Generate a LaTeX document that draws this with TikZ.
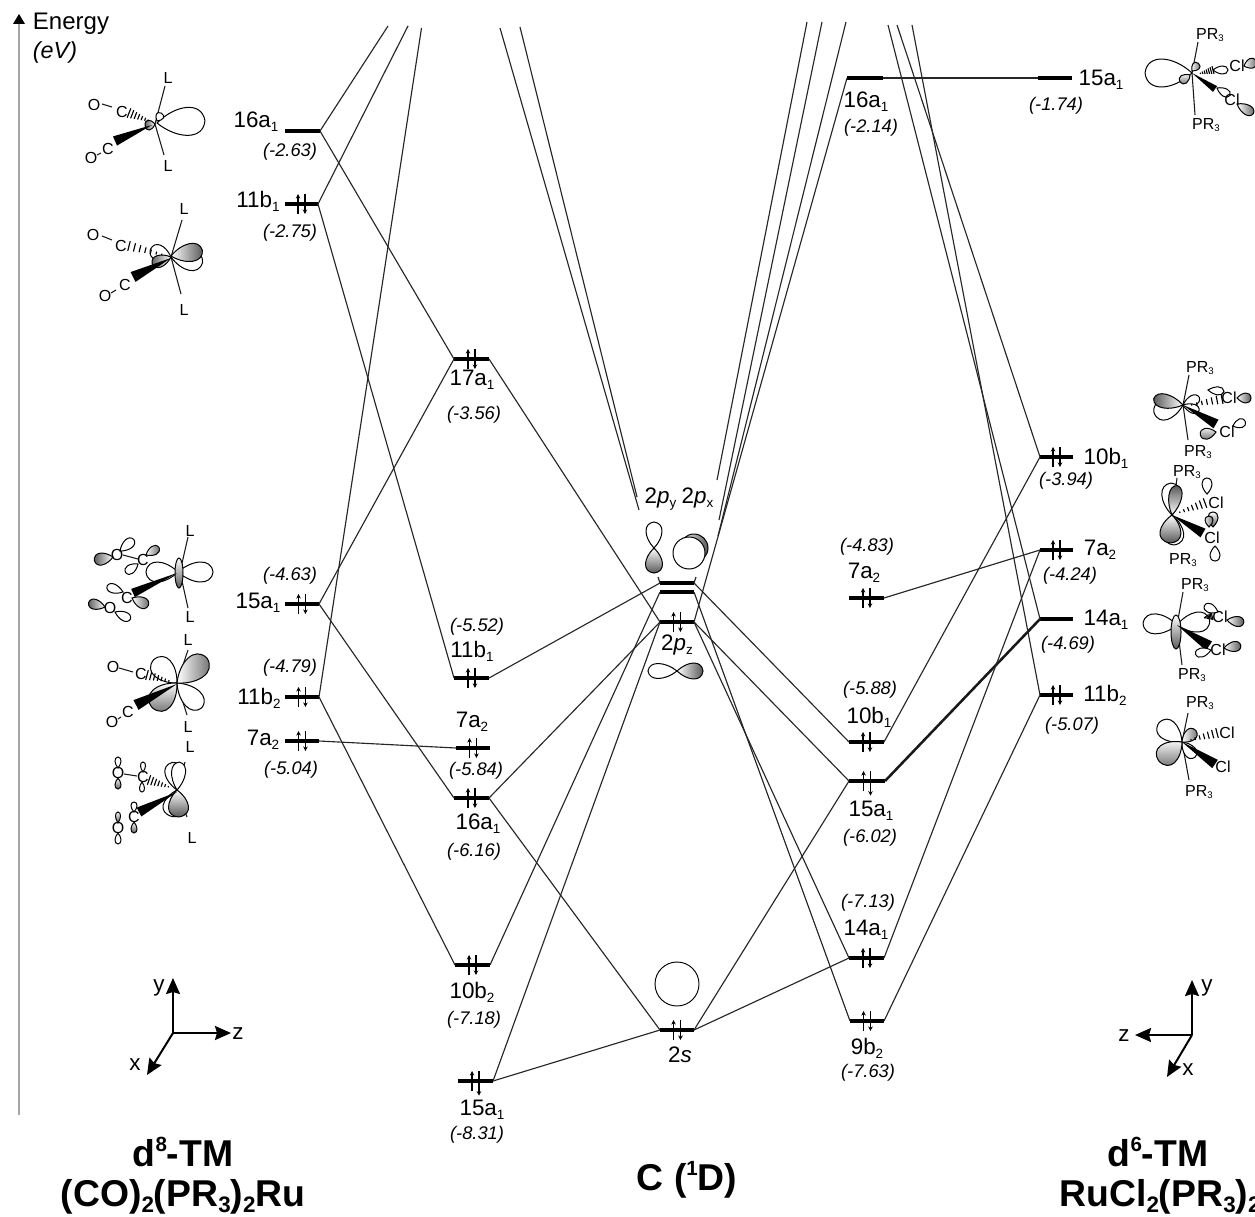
\documentclass[tikz,border=0pt]{standalone}
\usepackage{fontspec}
\setmainfont{Liberation Sans}
\usetikzlibrary{arrows.meta}
\newcount\tc
\newcommand\lo[1]{\raisebox{-.32ex}{\scalebox{.6}{#1}}}
\newcommand\hi[1]{\raisebox{.75ex}{\scalebox{.55}{#1}}}
\tikzset{
 lev/.style={fill=black,inner sep=0pt,minimum height=3.4pt,outer sep=0pt},
 cn/.style={line width=.85pt,black!85},
 cnt/.style={line width=1.9pt,black!90},
 ax/.style={line width=1.5pt,-{Stealth[length=12pt,width=10.5pt,inset=1.5pt]}},
 el/.style={line width=1pt,-{Stealth[length=3.4pt,width=3.4pt]}},
 lb/.style={draw=black,line width=.75pt,fill=white},
 gr/.style={left color=white,right color=black!65},
 gl/.style={left color=black!65,right color=white},
 gb/.style={top color=white,bottom color=black!65},
 gt/.style={top color=black!65,bottom color=white},
 bond/.style={line width=.8pt,black!90},
 lv/.style={inner sep=0pt,font=\fontsize{16.8}{18}\selectfont},
 va/.style={inner sep=0pt,font=\fontsize{13.7}{15}\selectfont\itshape},
 atm/.style={inner sep=0pt,font=\fontsize{12}{14}\selectfont},
 ti/.style={inner sep=0pt,font=\fontsize{28}{30}\selectfont\bfseries},
}
\newcommand\tx[4][lv]{\global\advance\tc by 1 \node[#1] (t\the\tc) at (#2,#3) {#4};}
\newcommand\lvl[4]{\node[lev,minimum width={(#3-#2)*0.75pt}] (#1) at ({(#2+#3)/2},#4) {};}
\newcommand\pair[2]{\draw[el] ([xshift=-2.6pt,yshift=-7.5pt]#1.center) -- ([xshift=-2.6pt,yshift=7.5pt]#1.center);
 \draw[el] ([xshift=2.6pt,yshift=7.5pt]#1.center) -- ([xshift=2.6pt,yshift=#2]#1.center);}
\newcommand\lobe[6]{\draw[lb,#6,shift={(#1,#2)},rotate=#3] (0,0) .. controls ({.4*#4},{.62*#5}) and ({.95*#4},{.71*#5}) .. (#4,0) .. controls ({.95*#4},{-.71*#5}) and ({.4*#4},{-.62*#5}) .. (0,0) -- cycle;}
\newcommand\hsh[5]{\pgfmathsetmacro\hll{veclen(#3-(#1),#4-(#2))}
 \foreach \t in {0,0.14,0.28,0.42,0.56,0.7,0.84}{
 \pgfmathsetmacro\hpx{#1+\t*(#3-(#1))}\pgfmathsetmacro\hpy{#2+\t*(#4-(#2))}
 \pgfmathsetmacro\hnx{-(#4-(#2))/\hll*#5*(1-\t)/2}\pgfmathsetmacro\hny{(#3-(#1))/\hll*#5*(1-\t)/2}
 \draw[line width=.85pt] ({\hpx+(\hnx)},{\hpy+(\hny)}) -- ({\hpx-(\hnx)},{\hpy-(\hny)});}}
\newcommand\wdg[5]{\pgfmathsetmacro\hll{veclen(#3-(#1),#4-(#2))}
 \pgfmathsetmacro\hnx{-(#4-(#2))/\hll*#5/2}\pgfmathsetmacro\hny{(#3-(#1))/\hll*#5/2}
 \fill ({#1+(\hnx)},{#2+(\hny)}) -- ({#1-(\hnx)},{#2-(\hny)}) -- (#3,#4) -- cycle;}
\begin{document}
\begin{tikzpicture}[x=.75pt,y=-.75pt]
\clip (0,0) rectangle (1255,1216);
\fill[white] (0,0) rectangle (1255,1216);
% energy axis
\coordinate (eb) at (19,1115); \coordinate (et) at (19,24);
\draw[black!35,line width=.9pt] (eb) -- (et);
\fill (19,14) -- (25,24) -- (13,24) -- cycle;
\tx[lv]{71}{24}{\fontsize{18}{20}\selectfont Energy}
\tx[va]{55}{52}{\fontsize{17.5}{20}\selectfont(eV)}
% levels
\lvl{Aa}{285}{320}{131}\lvl{Ab}{285}{318}{204}\lvl{Ac}{285}{319}{604}\lvl{Ad}{285}{319}{697}\lvl{Ae}{285}{319}{741}
\lvl{Ba}{454}{489}{359}\lvl{Bb}{454}{489}{678}\lvl{Bc}{456}{490}{748}\lvl{Bd}{454}{489}{798}\lvl{Be}{455}{490}{965}\lvl{Bf}{458}{493}{1081}
\lvl{Ca}{660}{694}{583}\lvl{Cb}{660}{694}{592}\lvl{Cc}{660}{694}{622}\lvl{Cd}{660}{694}{1030}
\lvl{Da}{847}{883}{78}\lvl{Db}{849}{884}{598}\lvl{Dc}{849}{884}{742}\lvl{Dd}{849}{885}{781}\lvl{De}{849}{884}{958}\lvl{Df}{850}{884}{1021}
\lvl{Ea}{1038}{1072}{78}\lvl{Eb}{1040}{1073}{457}\lvl{Ec}{1040}{1073}{550}\lvl{Ed}{1040}{1073}{619}\lvl{Ee}{1040}{1073}{695}
% free ends
\coordinate (f1) at (388,26);\coordinate (f2) at (408,26);\coordinate (f3) at (421.5,28);
\coordinate (g1) at (500,28);\coordinate (g2) at (520,27);\coordinate (g1e) at (639,510);\coordinate (g2e) at (637,497);
\coordinate (h1) at (807,22);\coordinate (h2) at (822,22);\coordinate (h3) at (846,22);
\coordinate (h1e) at (717,480);\coordinate (h2e) at (719,520);\coordinate (h3e) at (718,536);
\coordinate (k1) at (888,25);\coordinate (k2) at (897,25);\coordinate (k3) at (912,25);
\coordinate (q1) at (658,577);\coordinate (q2) at (696,577);
% connectors
\draw[cn] (Aa.east) -- (f1);\draw[cn] (Ab.east) -- (f2);\draw[cn] (Ad.east) -- (f3);
\draw[cn] (Aa.east) -- (Ba.west);\draw[cn] (Ab.east) -- (Bb.west);\draw[cn] (Ac.east) -- (Ba.west);
\draw[cn] (Ac.east) -- (Bd.west);\draw[cn] (Ad.east) -- (Be.west);\draw[cn] (Ae.east) -- (Bc.west);
\draw[cn] (g1) -- (g1e);\draw[cn] (g2) -- (g2e);
\draw[cn] (Ca.west) -- (q1);\draw[cn] (Ca.east) -- (q2);
\draw[cn] (Ba.east) -- (Cc.west);\draw[cn] (Bb.east) -- (Ca.west);\draw[cn] (Bd.east) -- (Cc.west);
\draw[cn] (Be.east) -- (Cb.west);\draw[cn] (Bd.east) -- (Cd.west);\draw[cn] (Bf.east) -- (Cd.west);\draw[cn] (Bf.east) -- (Cc.west);
\draw[cn] (h1) -- (h1e);\draw[cn] (h2) -- (h2e);\draw[cn] (h3) -- (h3e);
\draw[cn] (Cc.east) -- (Da.west);
\draw[cn] (Ca.east) -- (Dc.west);\draw[cn] (Cc.east) -- (Dd.west);\draw[cn] (Cc.east) -- (De.west);\draw[cn] (Cb.east) -- (Df.west);
\draw[cn] (Cd.east) -- (Dd.west);\draw[cn] (Cd.east) -- (De.west);
\draw[cn] (Da.east) -- (Ea.west);\draw[cn] (Db.east) -- (Ec.west);\draw[cn] (Dc.east) -- (Eb.west);
\draw[cnt] (Dd.east) -- (Ed.west);\draw[cn] (De.east) -- (Ec.west);\draw[cn] (Df.east) -- (Ee.west);
\draw[cn] (k1) -- (Ed.west);\draw[cn] (k2) -- (Eb.west);\draw[cn] (k3) -- (Ee.west);
% electrons
\foreach \n in {Ab,Ac,Ad,Ae,Ba,Bb,Bc,Bd,Be,Cc,Cd,Db,Dc,De,Df,Eb,Ec,Ee}{\pair{\n}{-7.5pt}}
\pair{Bf}{-11pt}\pair{Dd}{-11pt}
% level labels
\tx{256}{122}{16a\lo{1}}\tx[va]{290}{152}{(-2.63)}
\tx{258}{201}{11b\lo{1}}\tx[va]{290}{233}{(-2.75)}
\tx{258}{603}{15a\lo{1}}\tx[va]{290}{576}{(-4.63)}
\tx{259}{698}{11b\lo{2}}\tx[va]{290}{668}{(-4.79)}
\tx{263}{740}{7a\lo{2}}\tx[va]{291}{770}{(-5.04)}
\tx{472}{380}{17a\lo{1}}\tx[va]{474}{415}{(-3.56)}
\tx[va]{477}{627}{(-5.52)}\tx{472}{651}{11b\lo{1}}
\tx{472}{722}{7a\lo{2}}\tx[va]{476}{771}{(-5.84)}
\tx{478}{824}{16a\lo{1}}\tx[va]{474}{852}{(-6.16)}
\tx{472}{992}{10b\lo{2}}\tx[va]{474}{1020}{(-7.18)}
\tx{482}{1110}{15a\lo{1}}\tx[va]{477}{1135}{(-8.31)}
\tx{679}{499}{2\textit{p}\lo{y}\kern4pt 2\textit{p}\lo{x}}\tx{677}{645}{2\textit{p}\lo{z}}\tx{680}{1055}{2\textit{s}}
\tx{866}{102}{16a\lo{1}}\tx[va]{871}{128}{(-2.14)}
\tx[va]{867}{547}{(-4.83)}\tx{864}{573}{7a\lo{2}}
\tx[va]{870}{690}{(-5.88)}\tx{869}{717}{10b\lo{1}}
\tx{871}{811}{15a\lo{1}}\tx[va]{870}{838}{(-6.02)}
\tx[va]{868}{903}{(-7.13)}\tx{866}{930}{14a\lo{1}}
\tx{867}{1048}{9b\lo{2}}\tx[va]{868}{1073}{(-7.63)}
\tx{1101}{80}{15a\lo{1}}\tx[va]{1056}{106}{(-1.74)}
\tx{1106}{458}{10b\lo{1}}\tx[va]{1066}{481}{(-3.94)}
\tx{1100}{550}{7a\lo{2}}\tx[va]{1070}{576}{(-4.24)}
\tx{1106}{620}{14a\lo{1}}\tx[va]{1068}{645}{(-4.69)}
\tx{1105}{695}{11b\lo{2}}\tx[va]{1072}{726}{(-5.07)}
% titles
\tx[ti]{183}{1152}{d\hi{8}-TM}\tx[ti]{183}{1197}{(CO)\lo{2}(PR\lo{3})\lo{2}Ru}
\tx[ti]{687}{1180}{C (\hi{1}D)}
\tx[ti]{1158}{1152}{d\hi{6}-TM}\tx[ti]{1160}{1197}{RuCl\lo{2}(PR\lo{3})\lo{2}}
% central orbitals
\lobe{654}{548}{90}{26}{16}{}\lobe{654}{548}{-90}{25}{17}{gb}
\draw[lb,left color=white,right color=black!65] (694,548) circle[radius=14];
\draw[lb] (689,553) circle[radius=16];
\lobe{677}{671}{180}{29}{15}{}\lobe{677}{671}{0}{26}{16}{gr}
\draw[lb,line width=.7pt] (677,984) circle[radius=22];
% axes
\coordinate (oa) at (173,1033);\coordinate (ay) at (173,978);\coordinate (az) at (231,1033);\coordinate (ax) at (147,1075);
\draw[ax] (oa) -- (ay);\draw[ax] (oa) -- (az);\draw[ax] (oa) -- (ax);
\tx{159}{988}{y}\tx{238}{1034}{z}\tx{135}{1065}{x}
\coordinate (ob) at (1192,1035);\coordinate (by) at (1192,980);\coordinate (bz) at (1135,1035);\coordinate (bx) at (1167,1077);
\draw[ax] (ob) -- (by);\draw[ax] (ob) -- (bz);\draw[ax] (ob) -- (bx);
\tx{1207}{988}{y}\tx{1124}{1036}{z}\tx{1188}{1070}{x}
% molecule 1
\draw[bond] (165,86) -- (155,124) -- (164,155);
\lobe{157}{123}{3}{48}{28}{}\lobe{155}{124}{190}{10}{10}{gl}\lobe{157}{121}{60}{9}{8}{}
\tx[atm]{168}{78}{L}\tx[atm]{168}{166}{L}\tx[atm]{94}{105}{O}\tx[atm]{122}{112}{C}\tx[atm]{108}{149}{C}\tx[atm]{91}{158}{O}
\draw[bond] (102,104) -- (112,107);\draw[bond] (97,155) -- (101,153);
\hsh{129}{113}{152}{122}{10}\wdg{115}{141}{152}{125}{10}
% molecule 2
\draw[bond] (182,220) -- (171,257) -- (181,294);
\lobe{171}{257}{-10}{32}{20}{}\lobe{171}{256}{10}{32}{18}{gr}\lobe{171}{257}{160}{22}{15}{}\lobe{171}{257}{200}{20}{12}{gl}
\tx[atm]{184}{209}{L}\tx[atm]{184}{310}{L}\tx[atm]{93}{235}{O}\tx[atm]{121}{246}{C}\tx[atm]{125}{285}{C}\tx[atm]{105}{296}{O}
\draw[bond] (102,236) -- (112,240);\draw[bond] (111,293) -- (116,290);
\hsh{129}{246}{168}{256}{10}\wdg{133}{277}{171}{258}{11}
% molecule 3
\draw[bond] (188,537) -- (180,572) -- (188,608);
\lobe{178}{572}{180}{32}{20}{}\lobe{178}{572}{0}{35}{20}{}
\draw[lb,gb] (179,573) ellipse[x radius=4,y radius=15];
\wdg{133}{593}{177}{573}{9}
\tx[atm]{190}{531}{L}\tx[atm]{190}{617}{L}\tx[atm]{143}{560}{C}\tx[atm]{117}{555}{O}\tx[atm]{127}{598}{C}\tx[atm]{110}{608}{O}
\draw[bond] (123,555) -- (138,559);
\lobe{120}{551}{40}{18}{10}{}\lobe{113}{557}{190}{19}{12}{gl}\lobe{146}{555}{30}{15}{9}{gr}\lobe{138}{564}{215}{15}{9}{}
\lobe{132}{598}{-25}{18}{11}{gr}\lobe{123}{592}{160}{17}{9}{}\lobe{105}{607}{165}{17}{10}{gl}\lobe{115}{612}{-25}{17}{9}{}
% molecule 4
\draw[bond] (188,650) -- (177,683) -- (187,715);
\lobe{177}{683}{135}{33}{22}{}\lobe{177}{683}{-45}{35}{20}{}\lobe{177}{683}{40}{39}{24}{gr}\lobe{177}{683}{225}{35}{24}{gb}
\tx[atm]{188}{640}{L}\tx[atm]{188}{727}{L}\tx[atm]{113}{667}{O}\tx[atm]{141}{674}{C}\tx[atm]{128}{712}{C}\tx[atm]{112}{722}{O}
\draw[bond] (119,668) -- (133,672);\draw[bond] (118,719) -- (121,717);
\hsh{147}{675}{173}{682}{10}\wdg{136}{705}{177}{684}{11}
% molecule 5
\draw[bond] (185,762) -- (177,790) -- (187,817);
\lobe{177}{790}{100}{28}{18}{}\lobe{177}{790}{85}{28}{14}{}\lobe{177}{790}{-100}{27}{22}{}\lobe{177}{790}{-85}{27}{20}{gb}
\tx[atm]{190}{747}{L}\tx[atm]{192}{838}{L}\tx[atm]{143}{777}{C}\tx[atm]{118}{773}{O}\tx[atm]{134}{817}{C}\tx[atm]{118}{828}{O}
\draw[bond] (124,774) -- (137,776);
\hsh{149}{780}{172}{788}{10}\wdg{139}{812}{177}{792}{10}
\lobe{118}{768}{90}{11}{6}{}\lobe{118}{778}{-90}{11}{6}{gb}\lobe{143}{772}{90}{10}{5}{}\lobe{142}{782}{-90}{10}{5}{}
\lobe{134}{812}{90}{10}{6}{}\lobe{134}{822}{-90}{11}{6}{gb}\lobe{118}{823}{90}{11}{5}{gb}\lobe{118}{833}{-90}{11}{6}{}
% molecule 6
\draw[bond] (1198,42) -- (1192,73) -- (1195,115);
\lobe{1192}{73}{180}{47}{28}{}\lobe{1192}{71}{50}{10}{8}{gr}\lobe{1190}{75}{215}{12}{9}{gb}
\hsh{1213}{70}{1198}{74}{8}\wdg{1215}{89}{1192}{73}{7}
\tx[atm]{1210}{35}{PR\lo{3}}\tx[atm]{1206}{125}{PR\lo{3}}
\lobe{1213}{70}{0}{15}{8}{}\lobe{1217}{88}{-30}{15}{8}{}\lobe{1244}{66}{20}{13}{10}{gr}\lobe{1237}{104}{-30}{19}{10}{gr}
\tx[atm]{1237}{66}{Cl}\tx[atm]{1232}{100}{Cl}
% molecule 7
\draw[bond] (1189,375) -- (1183,405) -- (1188,440);
\lobe{1183}{405}{195}{30}{20}{}\lobe{1183}{405}{168}{30}{14}{gl}\lobe{1183}{405}{25}{18}{10}{}\lobe{1183}{405}{-20}{17}{9}{}
\hsh{1222}{399}{1186}{406}{10}\wdg{1216}{424}{1183}{405}{10}
\tx[atm]{1200}{368}{PR\lo{3}}\tx[atm]{1198}{452}{PR\lo{3}}\tx[atm]{1229}{398}{Cl}\tx[atm]{1227}{432}{Cl}
\lobe{1208}{390}{-5}{16}{8}{}\lobe{1237}{398}{0}{14}{10}{gr}\lobe{1233}{426}{20}{13}{9}{}\lobe{1216}{432}{190}{16}{11}{gb}
% molecule 8
\draw[bond] (1177,478) -- (1172,515) -- (1174,543);
\lobe{1172}{515}{92}{32}{19}{}\lobe{1172}{515}{80}{30}{13}{gt}\lobe{1172}{515}{-85}{30}{20}{}\lobe{1172}{515}{-95}{28}{21}{gb}
\hsh{1205}{503}{1175}{514}{10}\wdg{1203}{533}{1172}{515}{10}
\tx[atm]{1187}{472}{PR\lo{3}}\tx[atm]{1183}{560}{PR\lo{3}}\tx[atm]{1216}{503}{Cl}\tx[atm]{1212}{538}{Cl}
\lobe{1207}{494}{90}{16}{10}{}\lobe{1213}{527}{90}{15}{10}{gb}\lobe{1209}{527}{90}{11}{8}{gr}\lobe{1215}{546}{-90}{15}{10}{}
% molecule 9
\draw[bond] (1183,592) -- (1177,625) -- (1182,665);
\lobe{1177}{625}{177}{34}{20}{}\lobe{1177}{625}{8}{33}{20}{}
\draw[lb,gb] (1176,632) ellipse[x radius=5,y radius=17];
\hsh{1212}{616}{1203}{618}{8}\wdg{1209}{646}{1177}{625}{11}
\tx[atm]{1195}{585}{PR\lo{3}}\tx[atm]{1192}{675}{PR\lo{3}}\tx[atm]{1220}{617}{Cl}\tx[atm]{1218}{650}{Cl}
\lobe{1218}{612}{155}{15}{9}{}\lobe{1227}{620}{-8}{17}{10}{gr}\lobe{1224}{648}{8}{17}{10}{gr}\lobe{1211}{650}{195}{16}{9}{}
% molecule 10
\draw[bond] (1188,713) -- (1182,742) -- (1189,780);
\lobe{1182}{742}{140}{30}{20}{}\lobe{1182}{742}{-50}{20}{12}{}\lobe{1182}{742}{40}{18}{12}{gr}\lobe{1182}{742}{220}{30}{22}{gb}
\hsh{1217}{733}{1186}{741}{10}\wdg{1215}{764}{1182}{742}{10}
\tx[atm]{1200}{703}{PR\lo{3}}\tx[atm]{1199}{792}{PR\lo{3}}\tx[atm]{1227}{733}{Cl}\tx[atm]{1223}{767}{Cl}
\end{tikzpicture}
\end{document}
